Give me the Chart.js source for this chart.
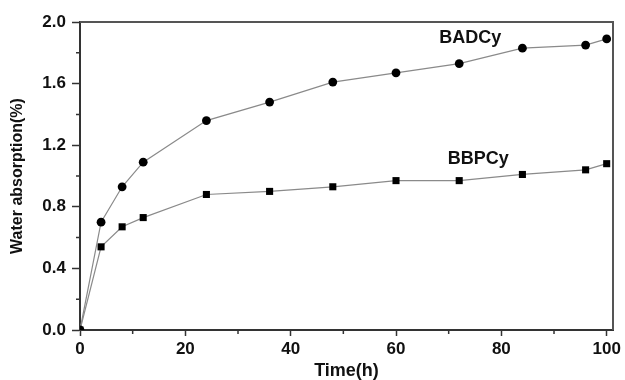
<!DOCTYPE html>
<html>
<head>
<meta charset="utf-8">
<script src="https://cdn.jsdelivr.net/npm/chart.js@4.4.1/dist/chart.umd.min.js"></script>
<style>
html,body{margin:0;padding:0;background:#fff;}
#wrap{width:625px;height:380px;}
</style>
</head>
<body>
<div id="wrap"><canvas id="c" width="625" height="380"></canvas></div>
<script>
const times = [0, 4, 8, 12, 24, 36, 48, 60, 72, 84, 96, 100];
const badcy = [0, 0.70, 0.93, 1.09, 1.36, 1.48, 1.61, 1.67, 1.73, 1.83, 1.85, 1.89];
const bbpcy = [0, 0.54, 0.67, 0.73, 0.88, 0.90, 0.93, 0.97, 0.97, 1.01, 1.04, 1.08];
const seriesNames = ['BADCy', 'BBPCy'];
const xTicks = [0, 20, 40, 60, 80, 100];
const xMinorTicks = [10, 30, 50, 70, 90];
const yTicks = [0, 0.4, 0.8, 1.2, 1.6, 2.0];
const yMinorTicks = [0.2, 0.6, 1.0, 1.4, 1.8];
const labelPos = [{x: 74.1, y: 1.895}, {x: 75.6, y: 1.11}];
const xTitle = 'Time(h)';
const yTitle = 'Water absorption(%)';

const toPts = arr => times.map((t, i) => ({x: t, y: arr[i]}));

const extras = {
  id: 'extras',
  afterDraw(chart) {
    const {ctx, chartArea: a, scales: {x, y}} = chart;
    ctx.save();
    // frame top/right
    ctx.strokeStyle = '#555';
    ctx.lineWidth = 2;
    ctx.beginPath();
    ctx.moveTo(a.left, a.top);
    ctx.lineTo(a.right, a.top);
    ctx.lineTo(a.right, a.bottom);
    ctx.stroke();
    // minor ticks
    ctx.strokeStyle = '#333';
    ctx.lineWidth = 1.5;
    ctx.beginPath();
    xMinorTicks.forEach(v => {
      const px = x.getPixelForValue(v);
      ctx.moveTo(px, a.bottom);
      ctx.lineTo(px, a.bottom + 4);
    });
    yMinorTicks.forEach(v => {
      const py = y.getPixelForValue(v);
      ctx.moveTo(a.left - 4, py);
      ctx.lineTo(a.left, py);
    });
    ctx.stroke();
    // series labels
    ctx.fillStyle = '#111';
    ctx.font = 'bold 18px "Liberation Sans", Arial, sans-serif';
    ctx.textAlign = 'center';
    ctx.textBaseline = 'middle';
    seriesNames.forEach((n, i) => {
      ctx.fillText(n, x.getPixelForValue(labelPos[i].x), y.getPixelForValue(labelPos[i].y));
    });
    ctx.restore();
  }
};

const tickFont = {family: '"Liberation Sans", Arial, sans-serif', size: 17, weight: 'bold'};

new Chart(document.getElementById('c'), {
  type: 'line',
  data: {
    datasets: [
      {
        label: seriesNames[0],
        data: toPts(badcy),
        borderColor: '#8a8a8a',
        borderWidth: 1.2,
        pointStyle: 'circle',
        pointRadius: 4.4,
        pointBackgroundColor: '#000',
        pointBorderColor: '#000',
        pointBorderWidth: 0,
        tension: 0
      },
      {
        label: seriesNames[1],
        data: toPts(bbpcy),
        borderColor: '#8a8a8a',
        borderWidth: 1.2,
        pointStyle: 'rect',
        pointRadius: 5,
        pointBackgroundColor: '#000',
        pointBorderColor: '#000',
        pointBorderWidth: 0,
        tension: 0
      }
    ]
  },
  options: {
    responsive: false,
    animation: false,
    layout: {padding: {top: 22, right: 12, left: 0, bottom: 0}},
    plugins: {legend: {display: false}, tooltip: {enabled: false}},
    scales: {
      x: {
        type: 'linear',
        min: 0,
        max: 101.2,
        afterBuildTicks: s => { s.ticks = xTicks.map(v => ({value: v})); },
        afterFit: s => { s.height = 50; s.paddingLeft = 0; s.paddingRight = 0; },
        ticks: {font: tickFont, color: '#111', padding: 3, maxRotation: 0, autoSkip: false},
        grid: {drawOnChartArea: false, drawTicks: true, tickLength: 6, tickColor: '#333', tickWidth: 1.5},
        border: {display: true, color: '#333', width: 2},
        title: {display: true, text: xTitle, color: '#111',
          font: {family: '"Liberation Sans", Arial, sans-serif', size: 18, weight: 'bold', lineHeight: 1},
          padding: {top: 0, bottom: 0}}
      },
      y: {
        type: 'linear',
        min: 0,
        max: 2.0,
        afterBuildTicks: s => { s.ticks = yTicks.map(v => ({value: v})); },
        afterFit: s => { s.width = 80; s.paddingTop = 0; s.paddingBottom = 0; },
        ticks: {font: tickFont, color: '#111', padding: 6, callback: v => Number(v).toFixed(1)},
        grid: {drawOnChartArea: false, drawTicks: true, tickLength: 8, tickColor: '#333', tickWidth: 1.5},
        border: {display: true, color: '#333', width: 2},
        title: {display: true, text: yTitle, color: '#111',
          font: {family: '"Liberation Sans", Arial, sans-serif', size: 16, weight: 'bold', lineHeight: 1},
          padding: {top: 10, bottom: 0}}
      }
    }
  },
  plugins: [extras]
});
</script>
</body>
</html>
